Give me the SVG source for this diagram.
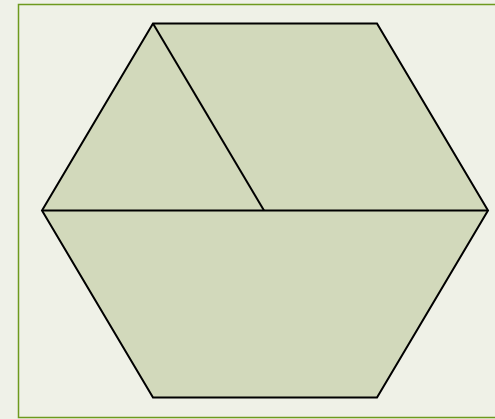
<svg xmlns="http://www.w3.org/2000/svg" width="495" height="419" viewBox="0 0 495 419">
<style>
.shape{fill:#d2d9bb;stroke:#000;stroke-width:2;stroke-linejoin:miter}
.edge{fill:none;stroke:#000;stroke-width:2}
</style>
<rect x="0" y="0" width="495" height="419" fill="#eff1e8"/>
<rect id="frame" x="18.5" y="4.5" width="490" height="413" fill="#eff1e7" stroke="#6e9a1e" stroke-width="1.5"/>
<g id="hexagon">
<polygon class="shape" points="153,23.5 377,23.5 488,210.5 377,397.5 153,397.5 42,210.5"/>
</g>
<g id="connectors">
<line class="edge" x1="42" y1="210.5" x2="488" y2="210.5"/>
<line class="edge" x1="153" y1="23.5" x2="264" y2="210.5"/>
</g>
</svg>
